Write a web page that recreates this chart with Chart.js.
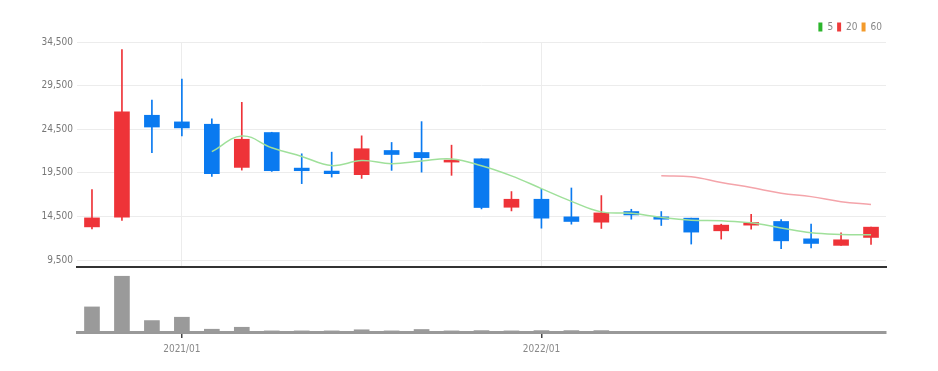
<!DOCTYPE html>
<html>
<head>
<meta charset="utf-8">
<script src="https://cdn.jsdelivr.net/npm/chart.js@4/dist/chart.umd.min.js"></script>
<style>
  html, body { margin: 0; padding: 0; background: #fff; }
  #wrap { position: relative; width: 938px; height: 371px; }
  #priceBox { position: absolute; left: 0; top: 0; width: 938px; height: 277px; }
  #volBox { position: absolute; left: 0; top: 268px; width: 938px; height: 103px; }
</style>
</head>
<body>
<div id="wrap">
  <div id="priceBox"><canvas id="priceChart"></canvas></div>
  <div id="volBox"><canvas id="volChart"></canvas></div>
</div>
<script>
// monthly candles
const months = ['2020/10','2020/11','2020/12','2021/01','2021/02','2021/03','2021/04','2021/05','2021/06',
  '2021/07','2021/08','2021/09','2021/10','2021/11','2021/12','2022/01','2022/02','2022/03','2022/04',
  '2022/05','2022/06','2022/07','2022/08','2022/09','2022/10','2022/11','2022/12'];
const openP  = [13300,14400,26100,25340,25070,20120,24120,20040,19700,19290,22060,21830,20730,21110,15550,16470,14450,13840,15060,14450,14300,12850,13500,13920,11930,11180,12090];
const highP  = [17570,33630,27850,30250,25680,27580,24150,21680,21870,23740,22980,25370,22670,21110,17350,17610,17760,16890,15320,15060,14300,13610,14750,14150,13610,12620,13270];
const lowP   = [13080,14030,21800,23740,19090,19810,19660,18260,19010,18860,19780,19580,19210,15360,15130,13150,13610,13120,14180,13460,11330,11900,13040,10790,10900,11180,11290];
const closeP = [14330,26500,24750,24650,19400,23350,19740,19740,19400,22260,21600,21230,20950,15520,16470,14300,13920,14900,14670,14180,12700,13500,13800,11700,11400,11820,13270];
// moving averages as drawn
const ma5  = [null,null,null,null,21930,23730,22380,21380,20330,20900,20550,20850,21090,20310,19150,17690,16230,15020,14850,14390,14070,13990,13770,13180,12620,12440,12400];
const ma20 = [null,null,null,null,null,null,null,null,null,null,null,null,null,null,null,null,null,null,null,19150,19050,18400,17810,17170,16770,16190,15870];
const ma60 = months.map(() => null);
const volume = [450,1000,205,265,50,85,20,20,20,40,20,45,20,25,20,25,25,25,0,0,0,0,0,0,0,0,0];
const priceTicks = [9500,14500,19500,24500,29500,34500];

const upColor = '#ee3338';
const downColor = '#0a7af0';
const fontFam = "'DejaVu Sans Condensed', 'Liberation Sans Narrow', 'Roboto', sans-serif";

const isUp = months.map((m, i) => closeP[i] >= openP[i]);
const candleColors = isUp.map(u => u ? upColor : downColor);
const yearGrid = (col) => (ctx) => (months[ctx.index] || '').endsWith('/01') ? col : 'rgba(0,0,0,0)';

new Chart(document.getElementById('priceChart'), {
  data: {
    labels: months,
    datasets: [
      { type: 'line', label: '5', data: ma5, borderColor: '#9fe09a', backgroundColor: '#2cb52c',
        borderWidth: 1.5, pointRadius: 0, tension: 0.4, spanGaps: false },
      { type: 'line', label: '20', data: ma20, borderColor: '#f4a4aa', backgroundColor: '#ee3b3b',
        borderWidth: 1.5, pointRadius: 0, tension: 0.4, spanGaps: false },
      { type: 'line', label: '60', data: ma60, borderColor: '#f39a2b', backgroundColor: '#f39a2b',
        borderWidth: 1.5, pointRadius: 0 },
      { type: 'bar', label: 'body', data: months.map((m, i) => [openP[i], closeP[i]]),
        backgroundColor: candleColors, barThickness: 15, minBarLength: 2, grouped: false, order: 1 },
      { type: 'bar', label: 'wick', data: months.map((m, i) => [lowP[i], highP[i]]),
        backgroundColor: candleColors, barThickness: 1, grouped: false, order: 2 }
    ]
  },
  options: {
    responsive: true,
    maintainAspectRatio: false,
    animation: false,
    layout: { padding: { left: 0, right: 52, top: 18, bottom: 1 } },
    plugins: {
      tooltip: { enabled: false },
      legend: {
        position: 'top',
        align: 'end',
        labels: {
          boxWidth: 4,
          boxHeight: 9,
          padding: 4,
          color: '#888',
          font: { family: fontFam, size: 10 },
          generateLabels: (chart) => chart.data.datasets.slice(0, 3).map((ds, i) => ({
            text: ds.label, fillStyle: ds.backgroundColor, strokeStyle: ds.backgroundColor,
            lineWidth: 0, hidden: false, datasetIndex: i, fontColor: '#888'
          }))
        }
      }
    },
    scales: {
      x: {
        offset: true,
        afterFit: (scale) => { scale.height = 0; },
        ticks: { display: false },
        grid: { offset: false, drawTicks: false, color: yearGrid('#ececec') },
        border: { color: '#333', width: 2 }
      },
      y: {
        min: 8700,
        max: 34500,
        afterBuildTicks: (scale) => { scale.ticks = priceTicks.map(v => ({ value: v })); },
        afterFit: (scale) => { scale.width = 77; },
        ticks: {
          padding: 4,
          color: '#777',
          font: { family: fontFam, size: 10 },
          callback: (v) => Number(v).toLocaleString('en-US')
        },
        grid: { color: '#ececec', drawTicks: false },
        border: { display: false }
      }
    }
  }
});

new Chart(document.getElementById('volChart'), {
  type: 'bar',
  data: {
    labels: months,
    datasets: [{ label: 'volume', data: volume, backgroundColor: '#9a9a9a', barThickness: 15 }]
  },
  options: {
    responsive: true,
    maintainAspectRatio: false,
    animation: false,
    layout: { padding: { left: 77, right: 52, top: 1, bottom: 11 } },
    plugins: { legend: { display: false }, tooltip: { enabled: false } },
    scales: {
      x: {
        offset: true,
        ticks: {
          autoSkip: false,
          maxRotation: 0,
          padding: 5,
          color: '#888',
          font: { family: fontFam, size: 10 },
          callback: (v, i) => months[i].endsWith('/01') ? months[i] : ''
        },
        grid: { offset: false, drawOnChartArea: false, tickLength: 6, lineWidth: 1.5, color: yearGrid('#444') },
        border: { color: '#999', width: 3 }
      },
      y: { display: false, min: 0, max: 1130 }
    }
  }
});
</script>
</body>
</html>
